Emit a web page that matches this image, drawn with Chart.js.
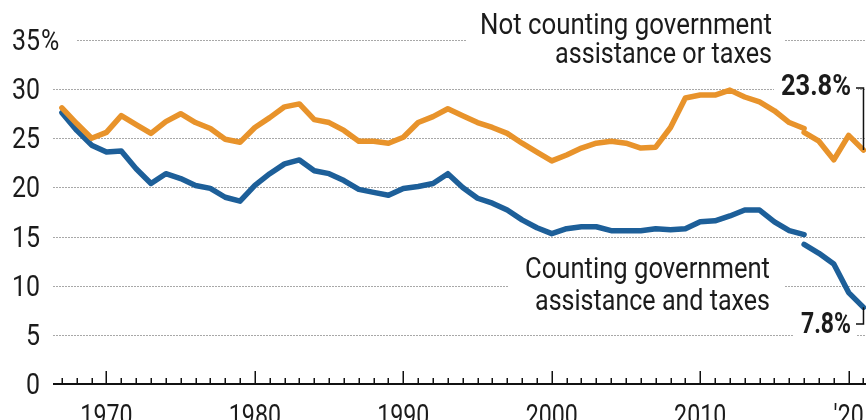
<!DOCTYPE html>
<html>
<head>
<meta charset="utf-8">
<script src="https://cdn.jsdelivr.net/npm/chart.js@4.4.1/dist/chart.umd.min.js"></script>
<style>
  html, body { margin: 0; padding: 0; background: #fff; overflow: hidden; }
  #wrap { position: absolute; left: 0; top: 0; width: 900px; height: 440px; }
</style>
</head>
<body>
<div id="wrap"><canvas id="poverty" width="900" height="440"></canvas></div>
<script>
// years of the older measure, 1967-2017
const years = [];
for (let yr = 1967; yr <= 2017; yr++) years.push(yr);

// Not counting government assistance or taxes (%)
const notCounting = [
  28.1, 26.5, 25.0, 25.6, 27.3, 26.4, 25.5, 26.7, 27.5, 26.6,
  26.0, 24.9, 24.6, 26.1, 27.1, 28.2, 28.5, 26.9, 26.6, 25.8,
  24.7, 24.7, 24.5, 25.1, 26.6, 27.2, 28.0, 27.3, 26.6, 26.1,
  25.5, 24.5, 23.6, 22.7, 23.3, 24.0, 24.5, 24.7, 24.5, 24.0,
  24.1, 26.1, 29.1, 29.4, 29.4, 29.9, 29.2, 28.7, 27.8, 26.6,
  26.0
];

// Counting government assistance and taxes (%)
const counting = [
  27.6, 25.8, 24.3, 23.6, 23.7, 21.9, 20.4, 21.4, 20.9, 20.2,
  19.9, 19.0, 18.6, 20.2, 21.4, 22.4, 22.8, 21.7, 21.4, 20.7,
  19.8, 19.5, 19.2, 19.9, 20.1, 20.4, 21.4, 20.0, 18.9, 18.4,
  17.7, 16.7, 15.9, 15.3, 15.8, 16.0, 16.0, 15.6, 15.6, 15.6,
  15.8, 15.7, 15.8, 16.5, 16.6, 17.1, 17.7, 17.7, 16.5, 15.6,
  15.2
];

// revised measure, 2017-2021
const newYears = [2017, 2018, 2019, 2020, 2021];
const notCountingNew = [25.6, 24.7, 22.8, 25.3, 23.8];
const countingNew = [14.2, 13.3, 12.2, 9.3, 7.8];

// axis ticks
const yTicks = [0, 5, 10, 15, 20, 25, 30, 35];
const xTickYears = [1970, 1980, 1990, 2000, 2010, 2020];
const xTickLabels = ['1970', '1980', '1990', '2000', '2010', "'20"];

const ORANGE = '#e8932b';
const BLUE = '#1d5f99';
const INK = '#1b1b1b';
const FONT = 'Roboto, "Open Sans", sans-serif';

const pts = (xs, ys) => xs.map((x, i) => ({ x: x, y: ys[i] }));

// draws text squeezed horizontally (the original uses a condensed face)
function say(ctx, str, x, y, align, font, sx) {
  ctx.save();
  ctx.font = font;
  ctx.textAlign = align;
  ctx.textBaseline = 'alphabetic';
  ctx.fillStyle = INK;
  ctx.translate(x, y);
  ctx.scale(sx, 1);
  ctx.fillText(str, 0, 0);
  ctx.restore();
}
// same, but fitted to a given width
function sayW(ctx, str, x, y, align, font, w) {
  ctx.save();
  ctx.font = font;
  const sx = w / ctx.measureText(str).width;
  ctx.restore();
  say(ctx, str, x, y, align, font, sx);
}

const decor = {
  id: 'decor',
  beforeDatasetsDraw(chart) {
    const { ctx, chartArea: a, scales: { y } } = chart;
    ctx.save();
    // dotted grid
    ctx.strokeStyle = '#a8a8a8';
    ctx.lineWidth = 1;
    ctx.setLineDash([2, 1]);
    yTicks.forEach(v => {
      if (v === 0) return;
      const py = Math.round(y.getPixelForValue(v)) + 0.5;
      ctx.beginPath();
      ctx.moveTo(a.left, py);
      ctx.lineTo(a.right, py);
      ctx.stroke();
    });
    ctx.setLineDash([]);
    // white boxes behind the labels
    ctx.fillStyle = '#fff';
    ctx.fillRect(a.left, 26, 24, 28);      // behind 35%
    ctx.fillRect(467, 4, 317, 70);         // top note
    ctx.fillRect(508, 252, 277, 64);       // bottom note
    ctx.fillRect(774, 72, 84, 28);         // 23.8%
    ctx.fillRect(793, 310, 64, 28);        // 7.8%
    ctx.restore();
  },
  afterDatasetsDraw(chart) {
    const { ctx, chartArea: a, scales: { x, y } } = chart;
    const base = y.getPixelForValue(0);

    // x axis line + year ticks pointing up
    ctx.save();
    ctx.strokeStyle = '#111';
    ctx.lineWidth = 2;
    ctx.beginPath();
    ctx.moveTo(a.left, base);
    ctx.lineTo(a.right, base);
    ctx.stroke();
    ctx.lineWidth = 1.5;
    for (let yr = 1967; yr <= 2021; yr++) {
      const px = Math.round(x.getPixelForValue(yr)) + 0.25;
      const len = yr % 10 === 0 ? 13 : 6;
      ctx.beginPath();
      ctx.moveTo(px, base);
      ctx.lineTo(px, base - len);
      ctx.stroke();
    }
    ctx.restore();

    // y labels
    const f = '29px ' + FONT;
    yTicks.forEach(v => {
      const py = y.getPixelForValue(v) + 10;
      say(ctx, String(v), 40, py, 'right', f, 0.86);
      if (v === 35) say(ctx, '%', 41, py, 'left', f, 0.86);
    });

    // x labels
    xTickYears.forEach((yr, i) => {
      say(ctx, xTickLabels[i], x.getPixelForValue(yr), 425, 'center', f, 0.8);
    });

    // notes
    sayW(ctx, 'Not counting government', 772, 34, 'right', f, 292);
    sayW(ctx, 'assistance or taxes', 772, 63, 'right', f, 217);
    sayW(ctx, 'Counting government', 770, 278, 'right', f, 245);
    sayW(ctx, 'assistance and taxes', 770, 310, 'right', f, 235);

    const fb = 'bold 29px ' + FONT;
    sayW(ctx, '23.8%', 851, 95, 'right', fb, 70);
    sayW(ctx, '7.8%', 851, 333, 'right', fb, 50);

    // leader lines to the 2021 values
    const ex = x.getPixelForValue(2021);
    const oy = y.getPixelForValue(notCountingNew[notCountingNew.length - 1]);
    const by = y.getPixelForValue(countingNew[countingNew.length - 1]);
    ctx.save();
    ctx.strokeStyle = '#111';
    ctx.lineWidth = 1.5;
    ctx.beginPath();
    ctx.moveTo(856, 88);
    ctx.lineTo(ex, 88);
    ctx.lineTo(ex, oy);
    ctx.moveTo(856, 324);
    ctx.lineTo(ex, 324);
    ctx.lineTo(ex, by);
    ctx.stroke();
    ctx.restore();
  }
};

const line = (data, color) => ({
  data: data,
  borderColor: color,
  backgroundColor: color,
  borderWidth: 5.5,
  pointRadius: 0,
  tension: 0,
  borderJoinStyle: 'round',
  borderCapStyle: 'round',
  fill: false
});

new Chart(document.getElementById('poverty'), {
  type: 'line',
  data: {
    datasets: [
      line(pts(years, notCounting), ORANGE),
      line(pts(newYears, notCountingNew), ORANGE),
      line(pts(years, counting), BLUE),
      line(pts(newYears, countingNew), BLUE)
    ]
  },
  options: {
    responsive: false,
    animation: false,
    layout: { padding: { left: 53, right: 0, top: 40, bottom: 56 } },
    plugins: {
      legend: { display: false },
      tooltip: { enabled: false }
    },
    scales: {
      x: { type: 'linear', display: false, min: 1966.4, max: 2023.46 },
      y: { display: false, min: 0, max: 35 }
    }
  },
  plugins: [decor]
});
</script>
</body>
</html>
